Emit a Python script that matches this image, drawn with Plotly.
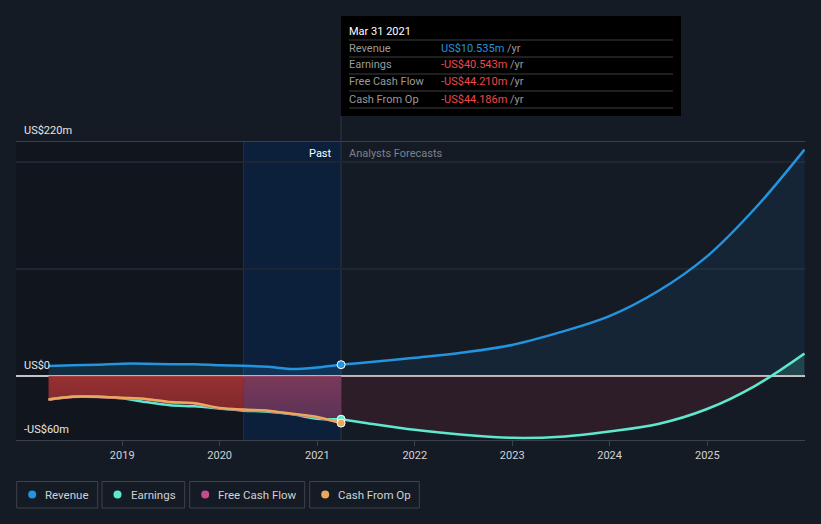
import plotly.graph_objects as go

# ---------------- data ----------------
past_dates = ["2018-03-31", "2018-06-30", "2018-09-30", "2018-12-31", "2019-03-31", "2019-06-30",
              "2019-09-30", "2019-12-31", "2020-03-31", "2020-06-30", "2020-09-30", "2020-12-31",
              "2021-03-31"]
past_revenue = [9.4, 10.0, 10.5, 11.5, 11.5, 11.0, 11.0, 10.0, 9.5, 8.5, 6.5, 8.0, 10.535]
past_earnings = [-22.0, -19.5, -19.5, -21.0, -24.5, -27.5, -28.5, -30.5, -32.5, -33.5, -36.0, -40.0, -40.543]
past_fcf = [-22.3, -19.8, -19.8, -20.8, -21.8, -24.8, -25.8, -30.3, -31.8, -32.8, -35.8, -38.8, -44.210]
past_cfo = [-22.0, -19.5, -19.5, -20.5, -21.5, -24.5, -25.5, -30.0, -31.5, -32.5, -35.5, -38.5, -44.186]

fc_dates = ["2021-03-31", "2021-07-01", "2021-12-31", "2022-07-01", "2022-12-31", "2023-07-01",
            "2023-12-31", "2024-07-01", "2024-12-31", "2025-07-01", "2025-12-31"]
fc_revenue = [10.535, 12.5, 17.0, 22.0, 29.0, 41.0, 56.0, 79.5, 112.0, 157.5, 212.0]
fc_earnings = [-40.543, -44.0, -50.5, -55.0, -58.0, -57.0, -52.0, -45.0, -31.0, -9.0, 21.0]

x_ticks = ["2019-01-01", "2020-01-01", "2021-01-01", "2022-01-01", "2023-01-01", "2024-01-01", "2025-01-01"]
x_tick_text = ["2019", "2020", "2021", "2022", "2023", "2024", "2025"]
y_labels = [(220, "US$220m"), (0, "US$0"), (-60, "-US$60m")]

tooltip_title = "Mar 31 2021"
tooltip_rows = [("Revenue", "US$10.535m", "#2394df"),
                ("Earnings", "-US$40.543m", "#f04848"),
                ("Free Cash Flow", "-US$44.210m", "#f04848"),
                ("Cash From Op", "-US$44.186m", "#f04848")]
legend_items = [("Revenue", "#2394df"), ("Earnings", "#5ee8cd"),
                ("Free Cash Flow", "#c84b8e"), ("Cash From Op", "#e8a95b")]

# ---------------- styling ----------------
W, H = 821, 524
L, R, T, B = 16, 16, 141, 84
BG = "#151b25"
FONT = "Roboto, Open Sans, sans-serif"
C_REV, C_EARN, C_FCF, C_CFO = "#2394df", "#5ee8cd", "#c84b8e", "#e8a95b"
X_RANGE = ["2017-11-29", "2026-01-02"]
Y_RANGE = [-60, 220]
SPLIT = 8  # index of 2020-03-31 (start of highlighted last year)


def px(x):
    return (x - L) / (W - L - R)


def py(y):
    return (H - B - y) / (H - T - B)


fig = go.Figure()

# past red fill (cash flow area), split at the highlighted year
fig.add_trace(go.Scatter(
    x=past_dates[:SPLIT + 1], y=past_fcf[:SPLIT + 1], mode="lines", line=dict(width=0, color=C_FCF),
    fill="tozeroy",
    fillgradient=dict(type="vertical", start=-40, stop=0,
                      colorscale=[[0, "rgba(135,38,42,0.9)"], [1, "rgba(165,52,52,0.9)"]]),
    hoverinfo="skip", showlegend=False))
fig.add_trace(go.Scatter(
    x=past_dates[SPLIT:], y=past_fcf[SPLIT:], mode="lines", line=dict(width=0, color=C_FCF),
    fill="tozeroy",
    fillgradient=dict(type="vertical", start=-45, stop=0,
                      colorscale=[[0, "rgba(95,52,90,0.9)"], [1, "rgba(135,60,92,0.9)"]]),
    hoverinfo="skip", showlegend=False))

# revenue fills
fig.add_trace(go.Scatter(x=past_dates, y=past_revenue, mode="lines", line=dict(width=0),
                         fill="tozeroy", fillcolor="rgba(35,148,223,0.18)",
                         hoverinfo="skip", showlegend=False))
fig.add_trace(go.Scatter(x=fc_dates, y=fc_revenue, mode="lines", line=dict(width=0, shape="spline"),
                         fill="tozeroy", fillcolor="rgba(35,148,223,0.09)",
                         hoverinfo="skip", showlegend=False))
# earnings forecast fill
fig.add_trace(go.Scatter(
    x=fc_dates, y=fc_earnings, mode="lines", line=dict(width=0, shape="spline"),
    fill="tozeroy",
    fillgradient=dict(type="vertical", start=-60, stop=25,
                      colorscale=[[0, "rgba(170,40,60,0.16)"], [60 / 85, "rgba(170,40,60,0.16)"],
                                  [60 / 85, "rgba(94,232,205,0.16)"], [1, "rgba(94,232,205,0.16)"]]),
    hoverinfo="skip", showlegend=False))

# lines
fig.add_trace(go.Scatter(x=past_dates, y=past_earnings, mode="lines",
                         line=dict(color=C_EARN, width=2.5, shape="spline", smoothing=0.6),
                         showlegend=False, hoverinfo="skip"))
fig.add_trace(go.Scatter(x=past_dates, y=past_fcf, mode="lines",
                         line=dict(color=C_FCF, width=2.5, shape="spline", smoothing=0.6),
                         showlegend=False, hoverinfo="skip"))
fig.add_trace(go.Scatter(x=past_dates, y=past_cfo, mode="lines",
                         line=dict(color=C_CFO, width=2.5, shape="spline", smoothing=0.6),
                         showlegend=False, hoverinfo="skip"))
fig.add_trace(go.Scatter(x=past_dates, y=past_revenue, mode="lines",
                         line=dict(color=C_REV, width=2.5, shape="spline", smoothing=0.6),
                         showlegend=False, hoverinfo="skip"))
fig.add_trace(go.Scatter(x=fc_dates, y=fc_revenue, mode="lines",
                         line=dict(color=C_REV, width=2.5, shape="spline"),
                         showlegend=False, hoverinfo="skip"))
fig.add_trace(go.Scatter(x=fc_dates, y=fc_earnings, mode="lines",
                         line=dict(color=C_EARN, width=2.5, shape="spline"),
                         showlegend=False, hoverinfo="skip"))

# end-of-past markers
for ys, col in [(past_revenue, C_REV), (past_earnings, C_EARN), (past_cfo, C_CFO)]:
    fig.add_trace(go.Scatter(x=[past_dates[-1]], y=[ys[-1]], mode="markers",
                             marker=dict(color=col, size=8, line=dict(color="#ffffff", width=1)),
                             showlegend=False, hoverinfo="skip"))

shapes = []
# dark past region
shapes.append(dict(type="rect", xref="x", yref="paper", x0=X_RANGE[0], x1="2020-03-31", y0=0, y1=1,
                   fillcolor="rgba(0,0,0,0.17)", line=dict(width=0), layer="below"))
# highlighted last year
shapes.append(dict(type="rect", xref="x", yref="paper", x0="2020-03-31", x1="2021-03-31", y0=0, y1=1,
                   fillcolor="#0c1f3b", line=dict(width=0), layer="below"))
shapes.append(dict(type="line", xref="x", yref="paper", x0="2020-03-31", x1="2020-03-31", y0=0, y1=1,
                   line=dict(color="#17335a", width=1), layer="below"))
# top boundary line at 220
shapes.append(dict(type="line", xref="paper", yref="y", x0=0, x1=1, y0=220, y1=220,
                   line=dict(color="#474c56", width=1.5), layer="below"))
# vertical cursor line
shapes.append(dict(type="line", xref="x", yref="paper", x0="2021-03-31", x1="2021-03-31",
                   y0=0, y1=py(116), line=dict(color="#2f3744", width=1), layer="below"))
# tooltip box
shapes.append(dict(type="rect", xref="paper", yref="paper", x0=px(341), x1=px(681), y0=py(116), y1=py(16),
                   fillcolor="#000000", line=dict(width=0), layer="above"))
for yy in [40, 57, 74, 91, 108]:
    shapes.append(dict(type="line", xref="paper", yref="paper", x0=px(349), x1=px(673), y0=py(yy), y1=py(yy),
                       line=dict(color="#3e3e3e", width=1), layer="above"))

annotations = []
annotations.append(dict(xref="paper", yref="paper", x=px(347), y=py(31), text=tooltip_title,
                        showarrow=False, xanchor="left", yanchor="middle",
                        font=dict(family=FONT, size=11, color="#ffffff")))
for i, (lab, val, col) in enumerate(tooltip_rows):
    yy = 48 + 17 * i
    annotations.append(dict(xref="paper", yref="paper", x=px(347), y=py(yy), text=lab, showarrow=False,
                            xanchor="left", yanchor="middle",
                            font=dict(family=FONT, size=11, color="#9a9a9a")))
    annotations.append(dict(xref="paper", yref="paper", x=px(439), y=py(yy),
                            text=f'<span style="color:{col}">{val}</span> /yr', showarrow=False,
                            xanchor="left", yanchor="middle",
                            font=dict(family=FONT, size=11, color="#9a9a9a")))

# Past / Analysts Forecasts
annotations.append(dict(xref="x", yref="paper", x="2021-03-31", y=py(153), text="Past", showarrow=False,
                        xanchor="right", yanchor="middle", xshift=-7,
                        font=dict(family=FONT, size=11, color="#ffffff")))
annotations.append(dict(xref="x", yref="paper", x="2021-03-31", y=py(153), text="Analysts Forecasts",
                        showarrow=False, xanchor="left", yanchor="middle", xshift=6,
                        font=dict(family=FONT, size=11, color="#7d828b")))

# y labels
for val, txt in y_labels:
    annotations.append(dict(xref="paper", yref="y", x=px(22), y=val, text=txt, showarrow=False,
                            xanchor="left", yanchor="bottom", yshift=2,
                            font=dict(family=FONT, size=11, color="#e6e6e6")))

# legend (custom boxes)
boxes = [(16.7, 97.7), (102, 184.7), (189.7, 304.7), (309.7, 419.3)]
for (lab, col), (x0, x1) in zip(legend_items, boxes):
    shapes.append(dict(type="rect", xref="paper", yref="paper", x0=px(x0), x1=px(x1), y0=py(508), y1=py(481.5),
                       fillcolor="rgba(0,0,0,0)", line=dict(color="#3d434c", width=1), layer="above"))
    cx = x0 + 15.5
    shapes.append(dict(type="circle", xref="paper", yref="paper", x0=px(cx - 4), x1=px(cx + 4),
                       y0=py(498.5), y1=py(490.5), fillcolor=col, line=dict(width=0), layer="above"))
    annotations.append(dict(xref="paper", yref="paper", x=px(x0 + 26.5), y=py(494.5), text=lab,
                            showarrow=False, xanchor="left", yanchor="middle",
                            font=dict(family=FONT, size=11.5, color="#cfd2d6")))

fig.update_layout(
    width=W, height=H, margin=dict(l=L, r=R, t=T, b=B),
    paper_bgcolor=BG, plot_bgcolor=BG,
    showlegend=False, shapes=shapes, annotations=annotations,
    xaxis=dict(type="date", range=X_RANGE, tickvals=x_ticks, ticktext=x_tick_text,
               showgrid=False, zeroline=False, showline=True, linecolor="#3b414b", linewidth=1,
               ticks="outside", ticklen=5, tickcolor="#3b414b",
               tickfont=dict(family=FONT, size=11, color="#d0d3d8")),
    yaxis=dict(range=Y_RANGE, tickvals=[0, 100, 200], showticklabels=False,
               showgrid=True, gridcolor="#1f2630", gridwidth=1.5,
               zeroline=True, zerolinecolor="#c4c4c4", zerolinewidth=1.5, fixedrange=True),
)

fig.write_html("out.html")
